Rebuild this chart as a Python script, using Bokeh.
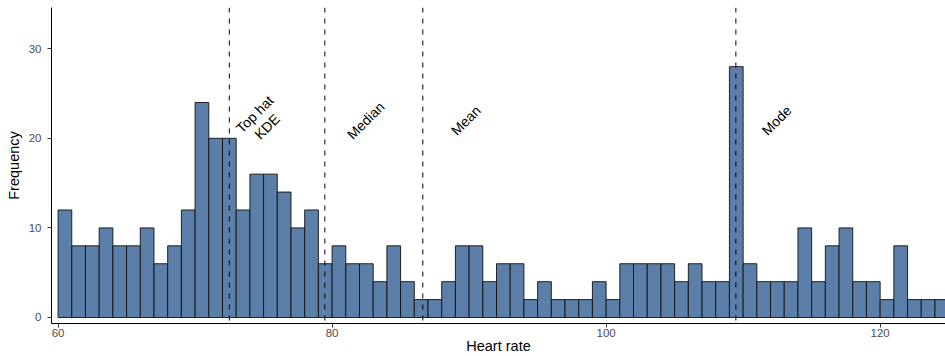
import math
from bokeh.plotting import figure
from bokeh.models import Span, Range1d, ColumnDataSource
from bokeh.embed import file_html
from bokeh.resources import INLINE
from bokeh.core.properties import value

# ---- data ----
bin_left = list(range(60, 125))
bin_width = 1
counts = [12, 8, 8, 10, 8, 8, 10, 6, 8, 12,
          24, 20, 20, 12, 16, 16, 14, 10, 12, 6,
          8, 6, 6, 4, 8, 4, 2, 2, 4, 8,
          8, 4, 6, 6, 2, 4, 2, 2, 2, 4,
          2, 6, 6, 6, 6, 4, 6, 4, 4, 28,
          6, 4, 4, 4, 10, 4, 8, 10, 4, 4,
          2, 8, 2, 2, 2]
stat_labels = ["Top hat\nKDE", "Median", "Mean", "Mode"]
stat_values = [72.5, 79.47, 86.62, 109.47]
label_x = [74.8, 82.45, 89.76, 112.45]
label_y = [22, 22, 22, 22]
x_ticks = [60, 80, 100, 120]
y_ticks = [0, 10, 20, 30]

FONT = "Liberation Sans"

src = ColumnDataSource(dict(
    left=bin_left,
    right=[b + bin_width for b in bin_left],
    top=counts,
    bottom=[0] * len(counts),
))

p = figure(width=945, height=356, output_backend="svg", toolbar_location=None,
           x_range=Range1d(59.52, 124.77), y_range=Range1d(-0.67, 34.6),
           min_border_left=51, min_border_right=0, min_border_top=7,
           min_border_bottom=10)

p.quad(left="left", right="right", top="top", bottom="bottom", source=src,
       fill_color="#5b7fa9", line_color="#111111", line_width=0.9)

for v in stat_values:
    p.add_layout(Span(location=v, dimension="height", line_color="black",
                      line_width=1, line_dash="5 6"))

lab_src = ColumnDataSource(dict(x=label_x, y=label_y, text=stat_labels))
p.text(x="x", y="y", text="text", source=lab_src, angle=math.pi / 4,
       text_align="center", text_baseline="middle",
       text_font=value(FONT), text_font_size="14px", text_color="black",
       text_line_height=1.1)

p.xgrid.visible = False
p.ygrid.visible = False
p.outline_line_color = None
p.background_fill_color = "white"
p.border_fill_color = "white"

p.xaxis.ticker = x_ticks
p.yaxis.ticker = y_ticks
p.xaxis.axis_label = "Heart rate"
p.yaxis.axis_label = "Frequency"

for ax in (p.xaxis[0], p.yaxis[0]):
    ax.axis_line_color = "black"
    ax.axis_line_width = 1
    ax.major_tick_line_color = "#333333"
    ax.major_tick_out = 4
    ax.major_tick_in = 0
    ax.minor_tick_line_color = None
    ax.major_label_text_font = FONT
    ax.major_label_text_font_size = "11.5px"
    ax.major_label_text_color = "#4d4d4d"
    ax.axis_label_text_font = FONT
    ax.axis_label_text_font_size = "14.5px"
    ax.axis_label_text_font_style = "normal"
    ax.axis_label_text_color = "black"

p.xaxis.axis_label_standoff = -2
p.yaxis.axis_label_standoff = 4
p.xaxis.major_label_standoff = 1
p.yaxis.major_label_standoff = 6

open("out.html", "w").write(file_html(p, INLINE))
